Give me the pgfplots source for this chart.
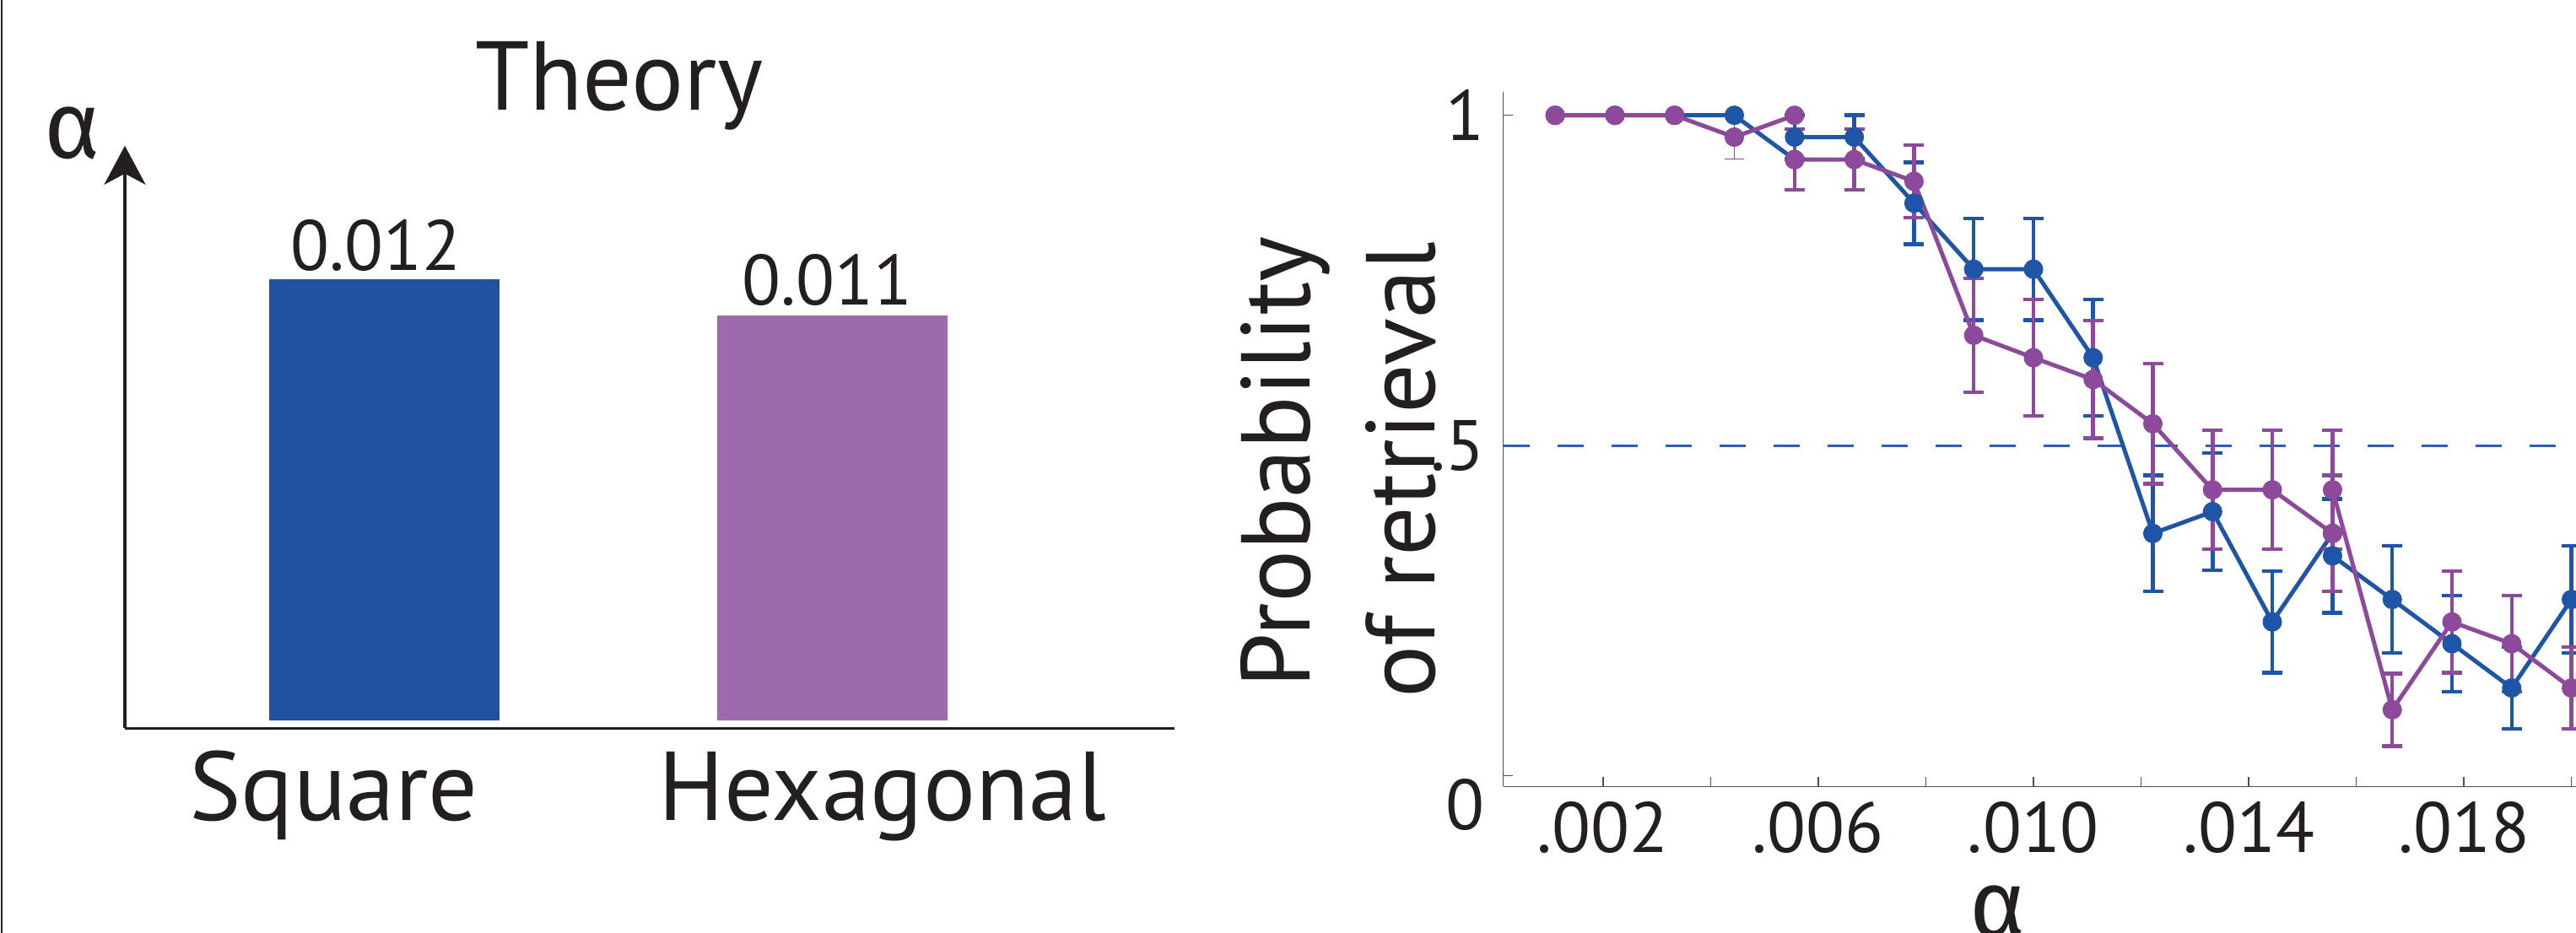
\documentclass[border=0pt]{standalone}
\usepackage{pgfplots}
\pgfplotsset{compat=1.18}
\usepackage{fontspec}
\setmainfont{PT Sans}
\newfontfamily\grk{Fira Sans}
\usetikzlibrary{arrows.meta}
\definecolor{sqblue}{HTML}{2151A1}
\definecolor{hexpurple}{HTML}{9D6AAB}
\definecolor{lblue}{HTML}{1E55A6}
\definecolor{lpurple}{HTML}{8D4A9D}
\definecolor{dashblue}{HTML}{2F5FB3}
\definecolor{axgray}{HTML}{505050}
\definecolor{txt}{HTML}{231F20}
\newcommand\BigFont{\fontsize{33}{38}\selectfont}
\newcommand\NumFont{\fontsize{24}{28}\selectfont}
\pgfplotsset{
  lineB/.style={lblue, line width=0.5mm, mark=*, mark size=0.9mm},
  lineP/.style={lpurple, line width=0.5mm, mark=*, mark size=0.9mm},
  ebars/.style={only marks, mark=*, mark size=0.9mm,
    error bars/.cd, y dir=both, y explicit,
    error bar style={line width=0.45mm},
    error mark options={rotate=90, mark size=1.2mm, line width=0.45mm}},
}
\begin{document}
\begin{tikzpicture}
\useasboundingbox (0,0) rectangle (305.3mm,110.6mm);
\clip (0,0) rectangle (305.3mm,110.6mm);
\fill[white] (0,0) rectangle (305.3mm,110.6mm);
\draw[txt, line width=0.3mm] (0.2mm,0) -- (0.2mm,110.6mm);

% ---------- left panel: theory bars ----------
\begin{axis}[
  at={(14.8mm,24.26mm)}, anchor=south west,
  scale only axis, width=124.4mm, height=69.06mm,
  xmin=-0.5787, xmax=1.764, ymin=-0.000227, ymax=0.015627,
  axis x line=bottom, axis y line=left,
  x axis line style={-, line width=0.35mm, txt},
  y axis line style={-{Stealth[length=4.6mm,width=4.9mm,inset=1.3mm]}, line width=0.35mm, txt},
  ytick=\empty,
  xtick={-0.113,1.112}, xticklabels={Square,Hexagonal},
  major tick length=0pt,
  xticklabel style={anchor=base, inner sep=0pt, yshift=-10.9mm, font=\BigFont, text=txt},
  ybar, bar width=0.514,
  nodes near coords, point meta=explicit symbolic,
  nodes near coords style={font=\NumFont, text=txt, anchor=base, inner sep=0pt},
]
\addplot[fill=sqblue, draw=none, bar shift=0pt,
  nodes near coords style={xshift=-1mm, yshift=1mm}] coordinates {(0,0.012)[0.012]};
\addplot[fill=hexpurple, draw=none, bar shift=0pt,
  nodes near coords style={xshift=-0.6mm, yshift=1.3mm}] coordinates {(1,0.011)[0.011]};
\end{axis}
\node[anchor=base, font=\BigFont, text=txt, inner sep=0pt] at (73.36mm,97.55mm) {Theory};
\node[anchor=base, font=\grk\fontsize{32}{36}\selectfont, text=txt, inner sep=0pt] at (8.6mm,91.8mm) {α};

% ---------- right panel: simulation ----------
\begin{axis}[
  at={(178.18mm,17.37mm)}, anchor=south west,
  scale only axis, width=129.76mm, height=82.3mm,
  xmin=0.000148, xmax=0.0205, ymin=-0.0161, ymax=1.035,
  axis x line*=bottom, axis y line*=left,
  axis line style={axgray, line width=0.13mm, -},
  tick align=inside,
  major tick length=1.1mm,
  tick style={axgray, line width=0.13mm},
  scaled x ticks=false,
  xtick={0.002,0.004,0.006,0.008,0.010,0.012,0.014,0.016,0.018,0.020},
  xticklabels={.002,,.006,,.010,,.014,,.018,},
  ytick={0.5,1}, yticklabels={.5,1},
  extra y ticks={0}, extra y tick labels={0},
  extra y tick style={yticklabel style={yshift=-3.4mm}},
  xticklabel style={anchor=north, inner sep=0pt, yshift=-1.7mm, font=\NumFont, text=txt},
  yticklabel style={anchor=east, inner sep=0pt, xshift=-2.2mm, font=\NumFont, text=txt},
]
\addplot[dashblue, line width=0.28mm, dash pattern=on 3.1mm off 3.3mm] coordinates {(0.000148,0.5) (0.0205,0.5)};
% square lattice (blue)
\addplot[lineB] coordinates {
 (0.00111,1) (0.00222,1) (0.00333,1) (0.00444,1) (0.00556,0.933)};
\addplot[lineB] coordinates {
 (0.00556,0.967) (0.00667,0.967) (0.00778,0.867) (0.00889,0.767) (0.01000,0.767)
 (0.01111,0.633) (0.01222,0.367) (0.01333,0.400) (0.01444,0.233) (0.01556,0.367)};
\addplot[lineB] coordinates {
 (0.01556,0.333) (0.01667,0.267) (0.01778,0.200) (0.01889,0.133) (0.02000,0.267)};
\addplot[lblue, ebars] coordinates {
 (0.00556,0.967) +- (0,0.033)
 (0.00667,0.967) +- (0,0.033)
 (0.00778,0.867) +- (0,0.062)
 (0.00889,0.767) +- (0,0.077)
 (0.01000,0.767) +- (0,0.077)
 (0.01111,0.633) +- (0,0.088)
 (0.01222,0.367) +- (0,0.088)
 (0.01333,0.400) +- (0,0.089)
 (0.01444,0.233) +- (0,0.077)
 (0.01556,0.333) +- (0,0.086)
 (0.01667,0.267) +- (0,0.081)
 (0.01778,0.200) +- (0,0.073)
 (0.01889,0.133) +- (0,0.062)
 (0.02000,0.267) +- (0,0.081)};
% hexagonal lattice (purple)
\addplot[lpurple, only marks, mark=*, mark size=0.9mm,
  error bars/.cd, y dir=both, y explicit,
  error bar style={line width=0.12mm},
  error mark options={rotate=90, mark size=1.15mm, line width=0.12mm}] coordinates {
 (0.00444,0.967) +- (0,0.033)};
\addplot[lineP] coordinates {
 (0.00111,1) (0.00222,1) (0.00333,1) (0.00444,0.967) (0.00556,1)};
\addplot[lineP] coordinates {
 (0.00556,0.933) (0.00667,0.933) (0.00778,0.900) (0.00889,0.667) (0.01000,0.633)
 (0.01111,0.600) (0.01222,0.533) (0.01333,0.433) (0.01444,0.433) (0.01556,0.367)};
\addplot[lineP] coordinates {
 (0.01556,0.433) (0.01667,0.100) (0.01778,0.233) (0.01889,0.200) (0.02000,0.133)};
\addplot[lpurple, ebars] coordinates {
 (0.00556,0.933) +- (0,0.046)
 (0.00667,0.933) +- (0,0.046)
 (0.00778,0.900) +- (0,0.055)
 (0.00889,0.667) +- (0,0.086)
 (0.01000,0.633) +- (0,0.088)
 (0.01111,0.600) +- (0,0.089)
 (0.01222,0.533) +- (0,0.091)
 (0.01333,0.433) +- (0,0.090)
 (0.01444,0.433) +- (0,0.090)
 (0.01556,0.367) +- (0,0.088)
 (0.01556,0.433) +- (0,0.090)
 (0.01667,0.100) +- (0,0.055)
 (0.01778,0.233) +- (0,0.077)
 (0.01889,0.200) +- (0,0.073)
 (0.02000,0.133) +- (0,0.062)};
\end{axis}
\node[rotate=90, anchor=base, font=\BigFont, text=txt, inner sep=0pt] at (155.2mm,55.8mm) {Probability};
\node[rotate=90, anchor=base, font=\BigFont, text=txt, inner sep=0pt] at (170.0mm,54.9mm) {of retrieval};
\node[anchor=base, font=\grk\fontsize{32}{36}\selectfont, text=txt, inner sep=0pt] at (236.8mm,-0.5mm) {α};
\end{tikzpicture}
\end{document}
